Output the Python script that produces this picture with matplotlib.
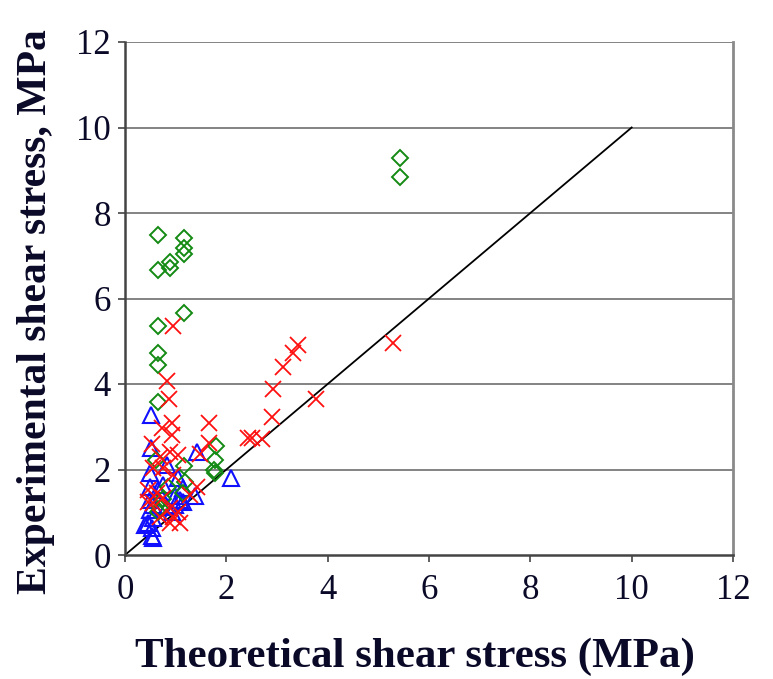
import matplotlib
matplotlib.use("Agg")
import matplotlib.pyplot as plt

# Data
green_x = [5.43, 5.43, 0.65, 1.16, 1.16, 1.16, 0.89, 0.89, 0.65, 1.16, 0.65, 0.65, 0.65, 0.65,
           1.79, 1.78, 1.76, 1.78, 1.16, 1.18, 1.14, 0.61, 0.65, 0.75, 0.70, 0.85]
green_y = [9.29, 8.84, 7.49, 7.42, 7.18, 7.04, 6.85, 6.71, 6.67, 5.66, 5.36, 4.73, 4.44, 3.58,
           2.55, 2.22, 1.99, 1.92, 2.08, 1.71, 1.45, 2.22, 1.00, 1.30, 1.10, 1.60]

red_x = [5.28, 3.76, 3.41, 3.32, 3.12, 2.92, 2.90, 2.70, 2.50,
         0.95, 0.83, 0.87, 0.93, 0.73, 0.93, 1.66, 1.66, 0.53, 2.43, 0.69, 0.89, 1.05, 1.48,
         0.55, 0.75, 0.95, 0.45, 0.63, 0.75, 0.55, 0.89, 1.05, 1.42, 1.28, 0.95, 1.08, 0.89, 0.69, 0.45]
red_y = [4.96, 3.65, 4.92, 4.73, 4.40, 3.88, 3.23, 2.72, 2.74,
         5.36, 4.07, 3.65, 3.09, 2.98, 2.81, 3.09, 2.63, 2.60, 2.74, 2.29, 2.41, 2.34, 2.36,
         2.04, 2.04, 1.87, 1.52, 1.45, 1.33, 1.22, 1.10, 1.01, 1.59, 1.40, 0.89, 0.75, 0.75, 0.89, 1.24]

blue_x = [0.51, 0.51, 2.09, 1.42, 0.83, 1.05, 1.14, 1.38, 1.09, 0.99, 0.93, 0.49, 0.49, 0.49,
          0.49, 0.45, 0.53, 0.53, 0.55, 0.75, 0.65, 0.55, 0.55, 0.39, 0.83, 0.99, 1.14]
blue_y = [3.28, 2.50, 1.79, 2.41, 2.10, 1.80, 1.57, 1.38, 1.29, 1.17, 1.00, 1.92, 1.59, 1.29,
          1.05, 0.75, 0.63, 0.45, 0.40, 1.64, 1.52, 1.17, 0.87, 0.70, 1.12, 1.38, 1.24]

line_x = [0, 10]
line_y = [0, 10]

x_ticks = [0, 2, 4, 6, 8, 10, 12]
y_ticks = [0, 2, 4, 6, 8, 10, 12]

plt.rcParams['font.family'] = ['Liberation Serif', 'DejaVu Serif']
txtcol = '#0a0a28'

fig = plt.figure(figsize=(7.73, 6.79), dpi=100)
ax = fig.add_axes([125/773, 1-555/679, (733-125)/773, (555-42)/679])

for yv in y_ticks[1:]:
    ax.axhline(yv, color='#6e6e6e', lw=1.2, zorder=0)

ax.plot(line_x, line_y, color='black', lw=1.3, zorder=1)
ax.plot(green_x, green_y, linestyle='none', marker='D', ms=8, mfc='none', mec='#138a13', mew=1.4, zorder=3)
ax.plot(red_x, red_y, linestyle='none', marker='x', ms=11, mec='#ff1010', mew=1.3, zorder=4)
ax.plot(blue_x, blue_y, linestyle='none', marker='^', ms=11, mfc='none', mec='#1010ff', mew=1.5, zorder=2)

ax.set_xlim(0, 12)
ax.set_ylim(0, 12)
ax.set_xticks(x_ticks)
ax.set_yticks(y_ticks)
ax.tick_params(direction='out', length=5, width=1.2, colors='#444444', labelsize=25,
               labelcolor=txtcol)
ax.tick_params(axis='x', pad=9)
ax.tick_params(axis='y', pad=5)
ax.spines['top'].set_visible(False)
ax.spines['right'].set_color('#8a8a8a')
ax.spines['right'].set_linewidth(2)
ax.spines['left'].set_color('#444444')
ax.spines['left'].set_linewidth(1.8)
ax.spines['bottom'].set_color('#444444')
ax.spines['bottom'].set_linewidth(1.8)

ax.set_xlabel('Theoretical shear stress (MPa)', fontsize=31, fontweight='bold', color=txtcol)
ax.set_ylabel('Experimental shear stress, MPa', fontsize=30, fontweight='bold', color=txtcol)
ax.xaxis.set_label_coords(0.477, -0.16)
ax.yaxis.set_label_coords(-0.115, 0.475)

fig.savefig('out.png', dpi=100)
